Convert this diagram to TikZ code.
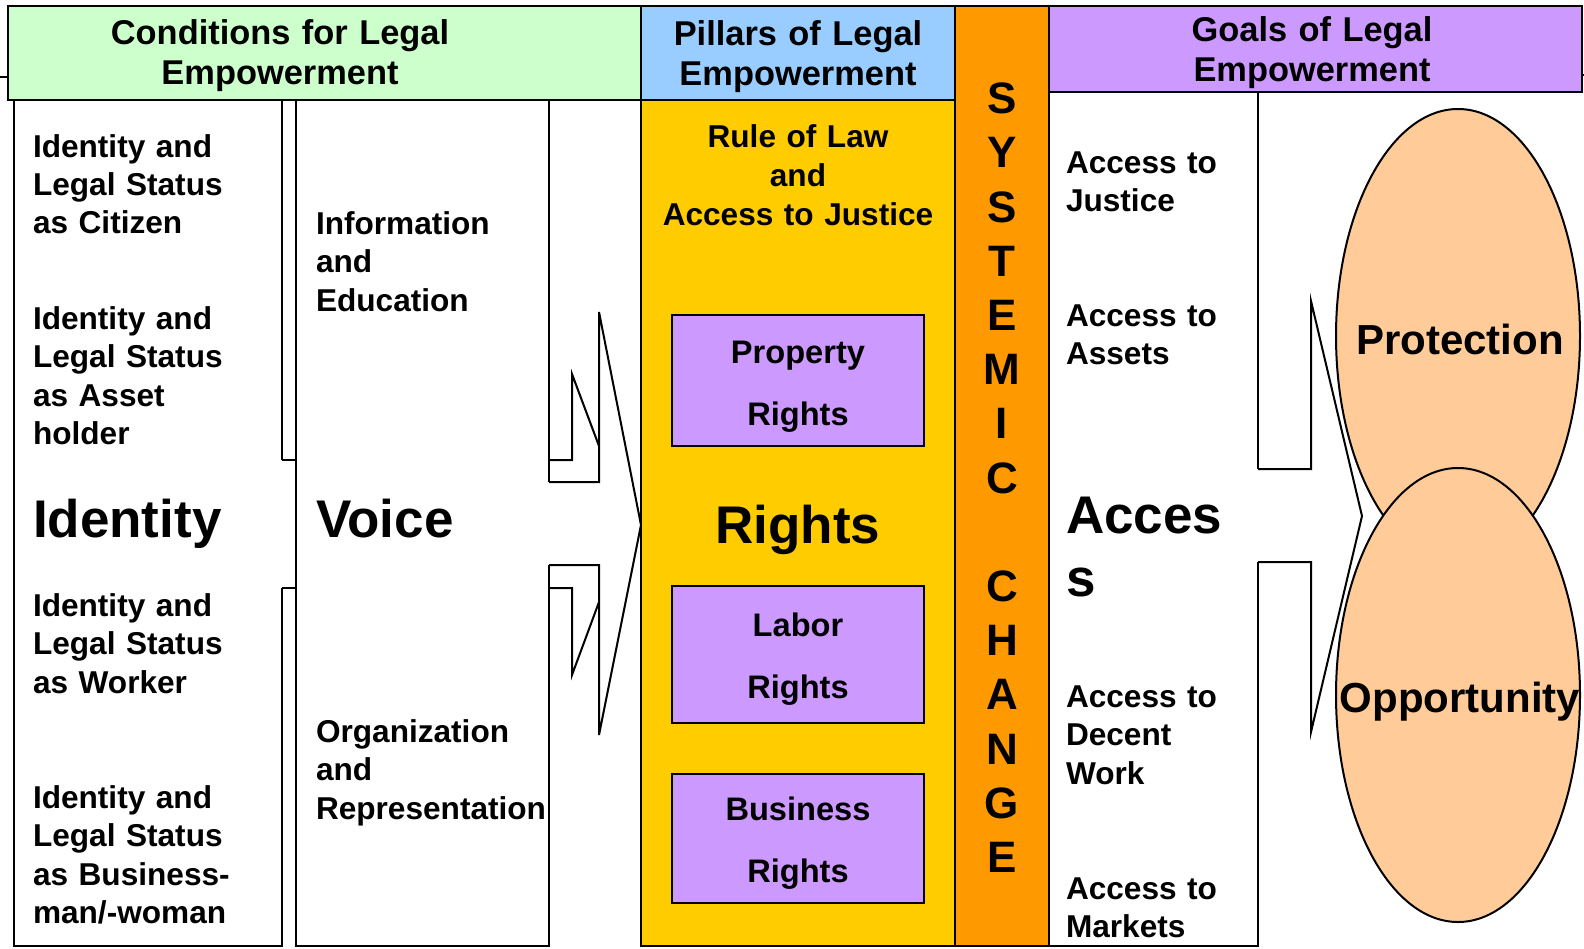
\documentclass[tikz,border=0pt]{standalone}
\usepackage{fontspec}
\setmainfont{Liberation Sans}
\usepackage{tikz}

\definecolor{condgreen}{HTML}{CCFFCC}
\definecolor{pillarblue}{HTML}{99CCFF}
\definecolor{changeorange}{HTML}{FF9900}
\definecolor{goallilac}{HTML}{CC99FF}
\definecolor{rightsyellow}{HTML}{FFCC00}
\definecolor{goalpeach}{HTML}{FFCC99}

\begin{document}
\begin{tikzpicture}[x=0.5pt,y=-0.5pt,line width=1pt,
  cond/.style={inner sep=0pt,anchor=base west,align=left,text width=130pt,
    font=\bfseries\fontsize{15.8}{19.2}\selectfont},
  head/.style={inner sep=0pt,anchor=base,align=center,text width=300pt,
    font=\bfseries\fontsize{17.2}{20.2}\selectfont},
  big/.style={inner sep=0pt,anchor=base west,align=left,text width=120pt,
    font=\bfseries\fontsize{26.5}{31.5}\selectfont},
  pilltext/.style={inner sep=0pt,anchor=base,align=center,text width=120pt,
    font=\bfseries\fontsize{16.3}{31}\selectfont},
  goal/.style={inner sep=0pt,anchor=base,font=\bfseries\fontsize{21}{25}\selectfont}]
\useasboundingbox (0,0) rectangle (1584,948);

% coloured columns and headers
\draw[fill=rightsyellow] (641,100) rectangle (955,946);
\draw[fill=changeorange] (955,6) rectangle (1049,946);
\draw[fill=condgreen] (8,6) rectangle (641,100);
\draw[fill=pillarblue] (641,6) rectangle (955,100);
\draw[fill=goallilac] (1049,6) rectangle (1582,92);
\draw (0,77) -- (8,77);
\draw (1582,75) -- (1584,75);

% conditions columns
\draw (282,460) -- (282,100) -- (14,100) -- (14,946) -- (282,946) -- (282,588);
\draw (282,460) -- (296,460);
\draw (282,588) -- (296,588);
\draw (549,482) -- (549,100) -- (296,100) -- (296,946) -- (549,946) -- (549,565);

% arrow into the pillars
\draw[fill=white] (549,482) -- (599,482) -- (599,312) -- (641,525) -- (599,735) -- (599,565) -- (549,565);
\draw (549,460) -- (572,460) -- (572,374) -- (599,446);
\draw (549,588) -- (572,588) -- (572,675) -- (599,602);

% pillars
\draw[fill=goallilac] (672,315) rectangle (924,446);
\draw[fill=goallilac] (672,586) rectangle (924,723);
\draw[fill=goallilac] (672,774) rectangle (924,903);

% goals
\draw (1258,469) -- (1258,92) -- (1049,92) -- (1049,946) -- (1258,946) -- (1258,562);
\draw[fill=goalpeach] (1458,336) ellipse [x radius=61pt, y radius=113.5pt];
\draw[fill=goalpeach] (1458,695) ellipse [x radius=61pt, y radius=113.5pt];
\draw[fill=white] (1258,469) -- (1311,469) -- (1311,301) -- (1362,516) -- (1311,732) -- (1311,562) -- (1258,562);

% header texts
\node[head] (condhead) at (280,44.5) {Conditions for Legal\\Empowerment};
\node[head] (pillhead) at (798,45.5) {Pillars of Legal\\Empowerment};
\node[head] (goalhead) at (1312,41.5) {Goals of Legal\\Empowerment};

% identity
\node[cond] (citizen) at (32,157) {Identity and\\Legal Status\\as Citizen};
\node[cond] (asset) at (32,329.5) {Identity and\\Legal Status\\as Asset\\holder};
\node[big] (identity) at (32,537) {Identity};
\node[cond] (worker) at (32,616.5) {Identity and\\Legal Status\\as Worker};
\node[cond] (business) at (32,808.5) {Identity and\\Legal Status\\as Business-\\man/-woman};

% voice
\node[cond] (info) at (315,234.5) {Information\\and\\Education};
\node[big] (voice) at (315,537) {Voice};
\node[cond] (organ) at (315,742.5) {Organization\\and\\Representation};

% rights
\node[cond,anchor=base,align=center,text width=150pt,font=\bfseries\fontsize{15.8}{19.5}\selectfont]
  (law) at (798,147.5) {Rule of Law\\and\\Access to Justice};
\node[pilltext] (property) at (798,363.8) {Property\\Rights};
\node[big,anchor=base,align=center] (rights) at (798,543) {Rights};
\node[pilltext] (labor) at (798,636.8) {Labor\\Rights};
\node[pilltext] (busrights) at (798,820.8) {Business\\Rights};

% systemic change
\node[inner sep=0pt,anchor=base,align=center,text width=40pt,
  font=\bfseries\fontsize{22}{27.1}\selectfont]
  (change) at (1002,113.75) {S\\Y\\S\\T\\E\\M\\I\\C\\[27.1pt]C\\H\\A\\N\\G\\E};

% access
\node[cond] (justice) at (1065,173.5) {Access to\\Justice};
\node[cond] (assets) at (1065,326.5) {Access to\\Assets};
\node[big] (access) at (1065,533) {Acces\\s};
\node[cond] (work) at (1065,707.5) {Access to\\Decent\\Work};
\node[cond] (markets) at (1065,899.5) {Access to\\Markets};

\node[goal] (protect) at (1460,354) {Protection};
\node[goal] (opport) at (1460,712) {Opportunity};

\end{tikzpicture}
\end{document}
